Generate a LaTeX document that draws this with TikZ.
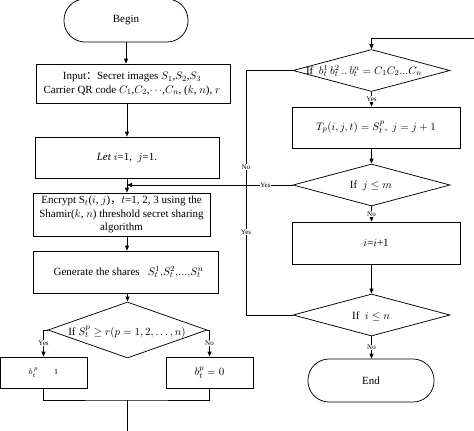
\documentclass[tikz,border=0pt]{standalone}
\usepackage{fontspec}
\setmainfont{Liberation Serif}
\newfontfamily\cjk{Noto Sans CJK SC}
\usetikzlibrary{shapes.geometric,arrows.meta}
\begin{document}
\begin{tikzpicture}[x=1pt,y=-1pt,
  font=\fontsize{11}{13.5}\selectfont,
  line/.style={draw, line width=0.75pt},
  arr/.style={line, -{Triangle[length=5pt,width=4pt]}},
  proc/.style={draw, line width=0.75pt, rectangle, inner sep=1pt, align=center},
  term/.style={draw, line width=0.75pt, rectangle, rounded corners=21pt, minimum width=124pt, minimum height=43pt},
  dec/.style={draw, line width=0.75pt, diamond, inner sep=0pt, minimum width=157pt, minimum height=42pt},
  txt/.style={inner sep=0pt, align=center},
  lab/.style={font=\fontsize{7}{8}\selectfont, fill=white, inner sep=0.6pt}
]
\useasboundingbox (0,0) rectangle (474,431);
% left column
\node[term] (begin) at (126,20.5) {Begin};
\node[draw, line width=0.75pt, trapezium, trapezium left angle=65, trapezium right angle=115,
  trapezium stretches body, minimum width=194pt, minimum height=39pt, inner sep=0pt] (input) at (133,83.5) {};
\node[txt] (inputt) at (132,84) {Input{\cjk ：}Secret images $S_1$,$S_2$,$S_3$\\Carrier QR code $C_1$,$C_2$,$\cdots$,$C_n$, ($k$, $n$), $r$};
\node[proc, minimum width=184pt, minimum height=41pt] (let) at (127,157.5) {\textit{Let} $i$=1,\enspace $j$=1.};
\node[proc, minimum width=177pt, minimum height=43pt] (enc) at (121.5,214.5) {Encrypt S$_t$($i$, $j$){\cjk ，}$t$=1, 2, 3 using the\\Shamir($k$, $n$) threshold secret sharing\\algorithm};
\node[proc, minimum width=185pt, minimum height=42pt] (gen) at (125.5,272) {\hspace{6pt}Generate the shares\enspace\ $S_t^1{,}S_t^2{,}...{,}S_t^n$};
\node[dec, minimum width=159pt, minimum height=56pt] (dec) at (127.5,330) {};
\node[txt] (dect) at (127,332) {If $S_t^p \geq r(p=1,2,\ldots,n)$};
\node[proc, minimum width=87pt, minimum height=31pt] (yesbox) at (43.5,372.5) {\fontsize{8}{9}\selectfont $b_t^{\,p}$\qquad 1};
\node[proc, minimum width=87pt, minimum height=31pt] (nobox) at (209.5,372.5) {$b_t^p = 0$};
\coordinate (join) at (127,400);
\coordinate (bot) at (127,431);
% right column
\coordinate (topin) at (474,38);
\node[dec] (d1) at (371.5,70.5) {};
\node[txt] (d1t) at (364,71) {If\enspace $b_t^1\,b_t^2\,{..}\,b_t^n = C_1C_2...C_n$};
\node[proc, minimum width=168pt, minimum height=41pt] (tbox) at (376,127.5) {$T_p(i,j,t) = S_t^p,\ j = j+1$};
\node[dec] (d2) at (371.5,185) {};
\node[txt] (d2t) at (371,186) {If\enspace $j \leq m$};
\node[proc, minimum width=168pt, minimum height=42pt] (ibox) at (376,243) {$i$=$i$+1};
\node[dec] (d3) at (371.5,315) {};
\node[txt] (d3t) at (371,316) {If\enspace $i \leq n$};
\node[term, minimum width=126pt] (end) at (371,380.5) {End};
\coordinate (fb) at (246,185);
% connectors left
\draw[arr] (begin.south) -- (begin.south |- input.north);
\draw[arr] (let.north |- input.south) -- (let.north);
\draw[arr] (let.south) -- (let.south |- enc.north);
\draw[arr] (let.south |- enc.south) -- (let.south |- gen.north);
\draw[arr] (dec.north |- gen.south) -- (dec.north);
\draw[arr] (dec.west) -- (dec.west -| yesbox.north) -- node[lab]{Yes} (yesbox.north);
\draw[arr] (dec.east) -- (dec.east -| nobox.north) -- node[lab]{No} (nobox.north);
\draw[line] (yesbox.south) |- (join) -| (nobox.south);
\draw[line] (join) -- (bot);
% connectors right
\draw[arr] (topin) -| (d1.north);
\draw[arr] (d1.south) -- node[lab]{Yes} (d1.south |- tbox.north);
\draw[arr] (d1.south |- tbox.south) -- (d2.north);
\draw[arr] (d2.south) -- node[lab]{No} (d2.south |- ibox.north);
\draw[arr] (d2.south |- ibox.south) -- (d3.north);
\draw[arr] (d3.south) -- node[lab]{No} (d3.south |- end.north);
% feedback
\draw[line] (d1.west) -| (fb);
\draw[line] (d3.west) -| (fb);
\draw[arr] (d2.west) -- node[lab, pos=0.164]{Yes} (d2.west -| let.south);
\node[lab] (nolab) at (246,167) {No};
\node[lab] (yeslab) at (246,232) {Yes};
\end{tikzpicture}
\end{document}
